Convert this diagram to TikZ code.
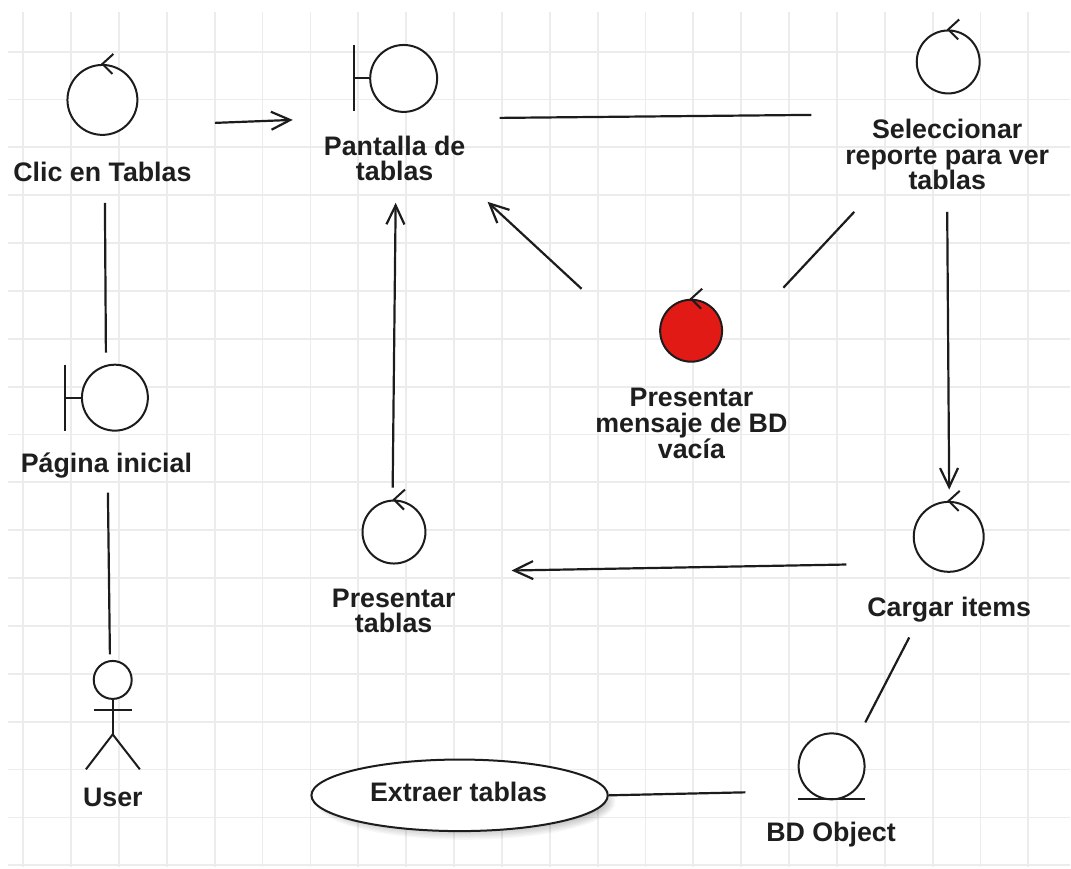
\documentclass[tikz,border=0pt]{standalone}
\usepackage{fontspec}
\setmainfont{Liberation Sans}
\usetikzlibrary{arrows.meta,shapes.geometric}

\definecolor{inkc}{RGB}{28,28,28}
\definecolor{textc}{RGB}{30,30,30}
\definecolor{gridc}{RGB}{236,236,236}
\definecolor{alertred}{RGB}{226,26,22}

% bold label font with fixed line pitch
\newcommand{\labelfont}{\bfseries\fontsize{26.8}{25.8}\selectfont\lineskiplimit=-60pt\relax}

\begin{document}
\begin{tikzpicture}[x=1pt,y=-1pt,
  gridline/.style={draw=gridc, line width=1.8pt},
  ink/.style={draw=inkc, line width=2pt},
  roundel/.style={circle, ink, fill=white, inner sep=0pt, minimum size=#1},
  link/.style={draw=inkc, line width=2.2pt},
  flow/.style={link, -{Straight Barb[length=19pt,width=18pt]}},
  lbl/.style={anchor=base, text=textc, align=center, inner sep=0pt, font=\labelfont}
]
% page and grid
\fill[white] (0,0) rectangle (1071,868);
\foreach \i in {0,...,21}
  \draw[gridline] ({23.3+47.9*\i},12) -- ({23.3+47.9*\i},868);
\foreach \j in {0,...,17}
  \draw[gridline] (8,{51.7+47.9*\j}) -- (1071,{51.7+47.9*\j});

% control objects
\node[roundel=70pt] (clic) at (102.5,100) {};
\node[roundel=63pt] (selecc) at (949,62) {};
\node[roundel=62pt, fill=alertred] (mensaje) at (691.7,331) {};
\node[roundel=63pt] (ptablas) at (394.3,532.5) {};
\node[roundel=70pt] (cargar) at (949.5,537.3) {};
\foreach \c in {clic,selecc,mensaje,ptablas,cargar}
  \draw[ink] ([shift={(11,-10)}]\c.north) -- (\c.north) -- ([shift={(10,10)}]\c.north);

% boundary objects
\node[roundel=67pt] (pantalla) at (404,78.5) {};
\draw[ink] (354.5,45.5) -- (354.5,111.5);
\draw[ink] (354.5,78.5) -- (pantalla.west);
\node[roundel=66pt] (pagina) at (115,398) {};
\draw[ink] (65,365) -- (65,431);
\draw[ink] (65,398) -- (pagina.west);

% entity object
\node[roundel=66pt] (bd) at (832.3,767) {};
\draw[ink] (799,800) -- (866,800);

% actor
\node[roundel=38pt] (head) at (112.8,680.5) {};
\coordinate (hip) at (112.8,735);
\draw[ink] (head.south) -- (hip);
\draw[ink] (94,710.7) -- (132,710.7);
\draw[ink] (86,770) -- (hip) -- (140,770);

% use case with soft shadow
\foreach \k in {0,...,7}
  \fill[black, opacity=0.03] (466,802.5) ellipse ({150-\k*1.5} and {38-\k*1.5});
\node[ellipse, ink, fill=white, minimum width=296.6pt, minimum height=71.6pt, inner sep=0pt]
  (extraer) at (460,796) {};

% labels (multi-line labels sit on the baseline of their last line)
\node[lbl] (clicL) at (102.5,181.7) {Clic en Tablas};
\node[lbl] (pantallaL) at (395,181) {Pantalla de\\tablas};
\node[lbl] (seleccL) at (948,190) {Seleccionar\\reporte para ver\\tablas};
\node[lbl] (paginaL) at (106.5,473.3) {Página inicial};
\node[lbl] (mensajeL) at (692,458.5) {Presentar\\mensaje de BD\\vacía};
\node[lbl] (ptablasL) at (394,633.5) {Presentar\\tablas};
\node[lbl] (cargarL) at (950,616.7) {Cargar items};
\node[lbl] (bdL) at (831.7,842.3) {BD Object};
\node[lbl] (userL) at (113,806.7) {User};
\node[lbl] (extraerL) at (459,801.7) {Extraer tablas};

% connector end points
\coordinate (a1) at (215,123);   \coordinate (a2) at (293,120);
\coordinate (b1) at (500,118);   \coordinate (b2) at (812,115);
\coordinate (c1) at (105,203);   \coordinate (c2) at (106,353);
\coordinate (d1) at (108,493);   \coordinate (d2) at (110,655);
\coordinate (e1) at (393,488);   \coordinate (e2) at (396,203);
\coordinate (f1) at (582,289);   \coordinate (f2) at (488,202);
\coordinate (g1) at (855,212);   \coordinate (g2) at (784,288);
\coordinate (h1) at (948,212);   \coordinate (h2) at (950,490);
\coordinate (i1) at (847,565);   \coordinate (i2) at (512,571);
\coordinate (j1) at (910,638);   \coordinate (j2) at (866,723);
\coordinate (k2) at (746,793);

% connectors
\draw[flow] (a1) -- (a2);
\draw[link] (b1) -- (b2);
\draw[link] (c1) -- (c2);
\draw[link] (d1) -- (d2);
\draw[flow] (e1) -- (e2);
\draw[flow] (f1) -- (f2);
\draw[link] (g1) -- (g2);
\draw[flow] (h1) -- (h2);
\draw[flow] (i1) -- (i2);
\draw[link] (j1) -- (j2);
\draw[link] (extraer.east) -- (k2);
\end{tikzpicture}
\end{document}
